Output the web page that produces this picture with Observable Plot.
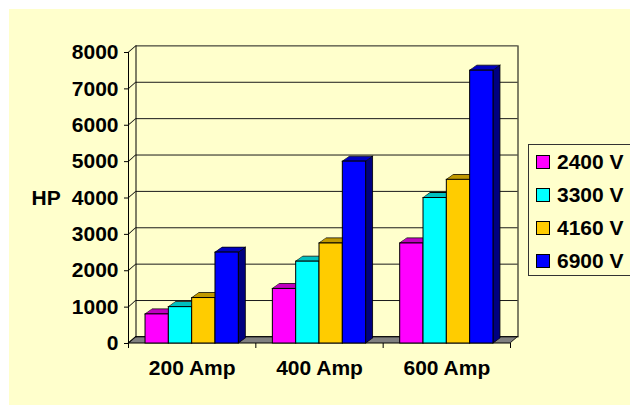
<!DOCTYPE html>
<html><head><meta charset="utf-8">
<script src="https://cdn.jsdelivr.net/npm/d3@7"></script>
<script src="https://cdn.jsdelivr.net/npm/@observablehq/plot@0.6"></script>
<style>
body{margin:0;background:#fff;font-family:"Liberation Sans",Arial,sans-serif;}
#bg{position:absolute;left:9px;top:9px;width:621px;height:396px;background:#FFFFCC;}
#chart{position:absolute;left:0;top:0;}
#legend{position:absolute;left:528px;top:144px;width:110px;height:130px;border:1px solid #333;border-right:none;}
.item{position:absolute;left:0;height:24px;display:flex;align-items:center;font-weight:bold;font-size:21px;color:#000;white-space:nowrap;}
.sw{width:12px;height:12px;border:1px solid #000;margin-left:7px;margin-right:7px;}
</style>
</head><body>
<div id="bg"></div>
<div id="chart"></div>
<div id="legend"></div>
<script>
// ---- data ----
const categories = ["200 Amp", "400 Amp", "600 Amp"];
const series = ["2400 V", "3300 V", "4160 V", "6900 V"];
const values2400 = [800, 1500, 2750];
const values3300 = [1000, 2250, 4000];
const values4160 = [1250, 2750, 4500];
const values6900 = [2500, 5000, 7500];
const yTicks = [0, 1000, 2000, 3000, 4000, 5000, 6000, 7000, 8000];
const yLabel = "HP";
const frontColors = ["#FF00FF", "#00FFFF", "#FFCC00", "#0000FF"];
const topColors = ["#C000C0", "#00C0C0", "#C09900", "#0000C0"];
const sideColors = ["#800080", "#008080", "#806600", "#000080"];

const seriesValues = [values2400, values3300, values4160, values6900];

// ---- layout ----
const width = 630, height = 405;
const marginLeft = 128, marginRight = 120, marginTop = 52, marginBottom = 62;
const padOuter = 0.73;
const frameW = width - marginLeft - marginRight;
const W = frameW / categories.length;            // category band width
const bw = W / (series.length + 2 * padOuter);   // single bar width
const BDX = 7, BDY = 5;       // bar depth
const WDX = 7.5, WDY = 6.6;   // wall / floor depth

const deg = (r) => r * 180 / Math.PI;
const css = `
g[aria-description="bar-top"] rect{transform-box:fill-box;transform-origin:0 100%;transform:skewX(${-deg(Math.atan(BDX / BDY))}deg);}
g[aria-description="bar-side"] rect{transform-box:fill-box;transform-origin:0 100%;transform:skewY(${-deg(Math.atan(BDY / BDX))}deg);}
g[aria-description="floor"] rect{transform-box:fill-box;transform-origin:0 100%;transform:skewX(${-deg(Math.atan(WDX / WDY))}deg);}
g[aria-description="wall-diag"] line{transform-box:fill-box;transform-origin:0 0;transform:skewY(${-deg(Math.atan(WDY / WDX))}deg);}
`;
const st = document.createElement("style"); st.textContent = css; document.head.appendChild(st);

const sideMarks = [], topMarks = [], frontMarks = [];
series.forEach((s, j) => {
  const vals = seriesValues[j];
  const L = (padOuter + j) * bw;
  const R = W - L - bw;
  sideMarks.push(Plot.barY(categories, {x: d => d, y1: 0, y2: (d, i) => vals[i],
    insetLeft: L + bw, insetRight: R - BDX, fill: sideColors[j], stroke: "#000", strokeWidth: 0.8, ariaDescription: "bar-side"}));
  topMarks.push(Plot.barY(categories, {x: d => d, y1: (d, i) => vals[i], y2: (d, i) => vals[i],
    insetLeft: L, insetRight: R, insetTop: -BDY, fill: topColors[j], stroke: "#000", strokeWidth: 0.8, ariaDescription: "bar-top"}));
  frontMarks.push(Plot.barY(categories, {x: d => d, y1: 0, y2: (d, i) => vals[i],
    insetLeft: L, insetRight: R, fill: frontColors[j], stroke: "#000", strokeWidth: 1, ariaDescription: "bar-front"}));
});

const chart = Plot.plot({
  width, height, marginLeft, marginRight, marginTop, marginBottom,
  style: {background: "transparent", fontFamily: "'Liberation Sans', Arial, sans-serif", fontWeight: "bold", fontSize: "21px", color: "#000", overflow: "visible"},
  x: {domain: categories, padding: 0, round: false, label: null, tickSize: 0, tickPadding: 17},
  y: {domain: [0, 8000], ticks: yTicks, tickSize: 4, tickPadding: 6, label: null, tickFormat: d => String(d)},
  marks: [
    // floor
    Plot.barY([0], {y1: 0, y2: 0, insetTop: -WDY, fill: "#808080", stroke: "#000", strokeWidth: 1, ariaDescription: "floor"}),
    // back wall gridlines
    Plot.ruleY(yTicks, {dx: WDX, dy: -WDY, stroke: "#1a1a1a", strokeWidth: 1}),
    // back wall vertical edges
    Plot.frame({anchor: "left", dx: WDX, dy: -WDY, stroke: "#000"}),
    Plot.frame({anchor: "right", dx: WDX, dy: -WDY, stroke: "#000"}),
    // left wall diagonals
    Plot.ruleY(yTicks, {insetRight: frameW - WDX, stroke: "#000", ariaDescription: "wall-diag"}),
    // front value axis line
    Plot.frame({anchor: "left", insetBottom: -4, stroke: "#000"}),
    // category separator ticks (band boundaries)
    Plot.ruleX(categories, {x: d => d, dx: W / 2, y1: 0, y2: 0, insetBottom: -5, stroke: "#000"}),
    // bars
    ...sideMarks, ...topMarks, ...frontMarks,
    // axis title
    Plot.text([yLabel], {frameAnchor: "left", y: () => 4000, dx: -97, textAnchor: "start", fill: "#000"})
  ]
});
document.getElementById("chart").appendChild(chart);

// legend
const legend = document.getElementById("legend");
series.forEach((s, i) => {
  const it = document.createElement("div");
  it.className = "item";
  it.style.top = (5.3 + i * 32.8) + "px";
  const sw = document.createElement("span");
  sw.className = "sw";
  sw.style.background = frontColors[i];
  it.appendChild(sw);
  it.appendChild(document.createTextNode(s));
  legend.appendChild(it);
});
</script>
</body></html>
